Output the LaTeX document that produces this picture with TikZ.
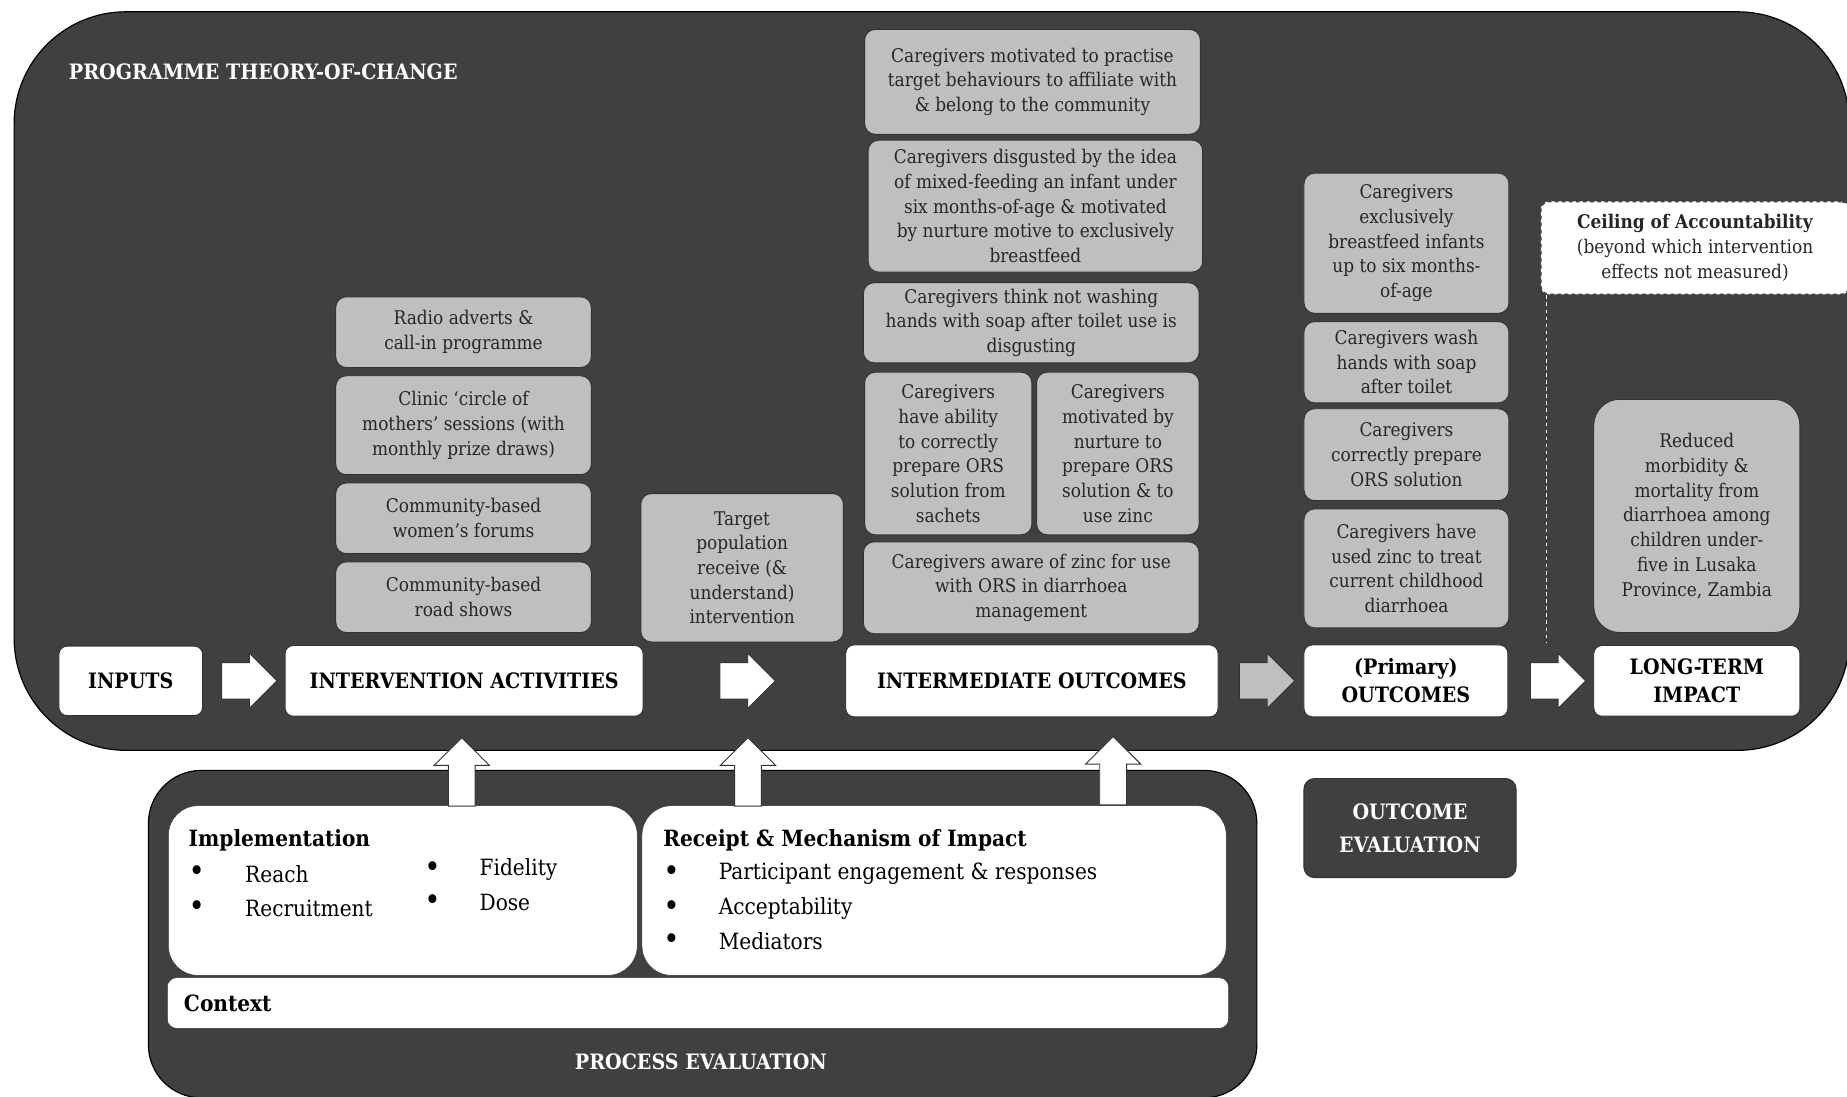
\documentclass[tikz,border=0pt]{standalone}
\usepackage{fontspec}
\setmainfont{DejaVu Serif Condensed}
\usetikzlibrary{shapes.arrows}
\definecolor{tocgrey}{HTML}{404040}
\definecolor{boxgrey}{HTML}{BFBFBF}
\tikzset{
  panel/.style={draw=black, line width=1pt, fill=tocgrey},
  gbox/.style={draw=black!80, line width=0.8pt, fill=boxgrey, rounded corners=9pt, align=center,
    font=\fontsize{16}{21}\selectfont, text=black!85, inner sep=0pt},
  hbox/.style={draw=black!80, line width=0.8pt, fill=white, rounded corners=7pt, align=center,
    font=\fontsize{18}{24}\selectfont\bfseries, inner sep=0pt},
  harrow/.style={single arrow, draw=black!80, fill=white, line width=0.8pt, minimum height=47pt,
    minimum width=46pt, single arrow head extend=8pt, inner xsep=0pt, inner ysep=15pt},
  varrow/.style={harrow, shape border rotate=90, minimum height=58pt, single arrow head extend=12pt,
    inner xsep=11pt, inner ysep=0pt},
  wtxt/.style={text=white, font=\fontsize{18}{24}\selectfont\bfseries, align=center},
  ltxt/.style={anchor=west, inner sep=0pt, font=\fontsize{19}{22}\selectfont},
  bul/.style={ltxt, font=\fontsize{26}{26}\selectfont},
}
\begin{document}
\begin{tikzpicture}[x=1pt, y=-1pt]
\useasboundingbox (0,0) rectangle (1568,931);
\node[panel, rounded corners=95pt, minimum width=1558pt, minimum height=627pt] (toc) at (791,323.5) {};
\node[panel, rounded corners=45pt, minimum width=941pt, minimum height=278pt] (pe) at (596.5,793) {};
\node[wtxt, anchor=west] (toctitle) at (55,61) {PROGRAMME THEORY-OF-CHANGE};

\node[hbox, minimum width=122pt, minimum height=59pt] (inputs) at (111,578) {INPUTS};
\node[hbox, minimum width=304pt, minimum height=60pt] (act) at (394,578) {INTERVENTION ACTIVITIES};
\node[hbox, minimum width=316pt, minimum height=61pt] (inter) at (876,578) {INTERMEDIATE OUTCOMES};
\node[hbox, minimum width=173pt, minimum height=61pt] (prim) at (1193.5,578) {(Primary)\\OUTCOMES};
\node[hbox, minimum width=175pt, minimum height=60pt] (impact) at (1440.5,578) {LONG-TERM\\IMPACT};
\node[harrow] (a1) at (204,578) {};
\node[harrow] (a2) at (627,578) {};
\node[harrow, fill=boxgrey] (a3) at (1068,578) {};
\node[harrow] (a4) at (1315,578) {};

\node[gbox, minimum width=217pt, minimum height=60pt] (radio) at (393.5,282) {Radio adverts \&\\call-in programme};
\node[gbox, minimum width=217pt, minimum height=84pt] (clinic) at (393.5,361) {Clinic ‘circle of\\mothers’ sessions (with\\monthly prize draws)};
\node[gbox, minimum width=217pt, minimum height=60pt] (forum) at (393.5,440) {Community-based\\women’s forums};
\node[gbox, minimum width=217pt, minimum height=60pt] (road) at (393.5,507) {Community-based\\road shows};
\node[gbox, minimum width=172pt, minimum height=126pt] (target) at (630,482) {Target\\population\\receive (\&\\understand)\\intervention};

\node[gbox, minimum width=285pt, minimum height=89pt] (belong) at (876.5,69.5) {Caregivers motivated to practise\\target behaviours to affiliate with\\\& belong to the community};
\node[gbox, minimum width=284pt, minimum height=112pt] (disgust) at (879,175) {Caregivers disgusted by the idea\\of mixed-feeding an infant under\\six months-of-age \& motivated\\by nurture motive to exclusively\\breastfeed};
\node[gbox, minimum width=285pt, minimum height=68pt] (soap) at (875.5,274) {Caregivers think not washing\\hands with soap after toilet use is\\disgusting};
\node[gbox, minimum width=142pt, minimum height=138pt] (ability) at (805,385) {Caregivers\\have ability\\to correctly\\prepare ORS\\solution from\\sachets};
\node[gbox, minimum width=138pt, minimum height=138pt] (nurture) at (949,385) {Caregivers\\motivated by\\nurture to\\prepare ORS\\solution \& to\\use zinc};
\node[gbox, minimum width=285pt, minimum height=78pt] (zinc) at (875.5,499) {Caregivers aware of zinc for use\\with ORS in diarrhoea\\management};

\node[gbox, minimum width=174pt, minimum height=119pt] (ebf) at (1194,206.5) {Caregivers\\exclusively\\breastfeed infants\\up to six months-\\of-age};
\node[gbox, minimum width=174pt, minimum height=69pt] (wash) at (1194,307.5) {Caregivers wash\\hands with soap\\after toilet};
\node[gbox, minimum width=174pt, minimum height=78pt] (ors) at (1194,386) {Caregivers\\correctly prepare\\ORS solution};
\node[gbox, minimum width=174pt, minimum height=101pt] (usedzinc) at (1194,482.5) {Caregivers have\\used zinc to treat\\current childhood\\diarrhoea};

\node[gbox, fill=white, rounded corners=7pt, draw=tocgrey, dashed, line width=1.5pt, minimum width=262pt, minimum height=79pt] (ceiling) at (1439,210.5) {\textbf{Ceiling of Accountability}\\(beyond which intervention\\effects not measured)};
\coordinate (ceilfoot) at (1313,546);
\draw[white, dashed, line width=1pt] (ceiling.south -| ceilfoot) -- (ceilfoot);
\node[gbox, rounded corners=22pt, minimum width=175pt, minimum height=198pt] (morb) at (1440.5,438) {Reduced\\morbidity \&\\mortality from\\diarrhoea among\\children under-\\five in Lusaka\\Province, Zambia};

\node[draw=black!80, fill=white, rounded corners=25pt, minimum width=398pt, minimum height=144pt] (impl) at (342,756) {};
\node[draw=black!80, fill=white, rounded corners=25pt, minimum width=496pt, minimum height=144pt] (receipt) at (793,756) {};
\node[draw=black!80, fill=white, rounded corners=8pt, minimum width=901pt, minimum height=43pt] (context) at (592.5,851.5) {};
\node[ltxt, font=\fontsize{19}{22}\selectfont\bfseries] (impltitle) at (160,713) {Implementation};
\foreach \item/\x/\tx/\y in {Reach/160/208/742, Recruitment/160/208/771, Fidelity/360/407/738, Dose/360/407/766}
  {\node[bul] (b\item) at (\x,\y) {\textbullet};
   \node[ltxt] (t\item) at (\tx,\y) {\item};}
\node[ltxt, font=\fontsize{19}{22}\selectfont\bfseries] (receipttitle) at (563,713) {Receipt \& Mechanism of Impact};
\foreach \item/\y in {Participant engagement \& responses/742, Acceptability/771, Mediators/799}
  {\node[bul] at (563,\y) {\textbullet};
   \node[ltxt] at (610,\y) {\item};}
\node[ltxt, font=\fontsize{19}{22}\selectfont\bfseries] (contexttitle) at (156,852) {Context};
\node[wtxt] (petitle) at (595,901) {PROCESS EVALUATION};

\node[varrow] (u1) at (392,661) {};
\node[varrow] (u2) at (635,661) {};
\node[varrow] (u3) at (945,660) {};

\node[panel, draw=black!80, rounded corners=9pt, minimum width=180pt, minimum height=84pt, wtxt, font=\fontsize{18}{28}\selectfont\bfseries] (oe) at (1197,703) {OUTCOME\\EVALUATION};
\end{tikzpicture}
\end{document}
